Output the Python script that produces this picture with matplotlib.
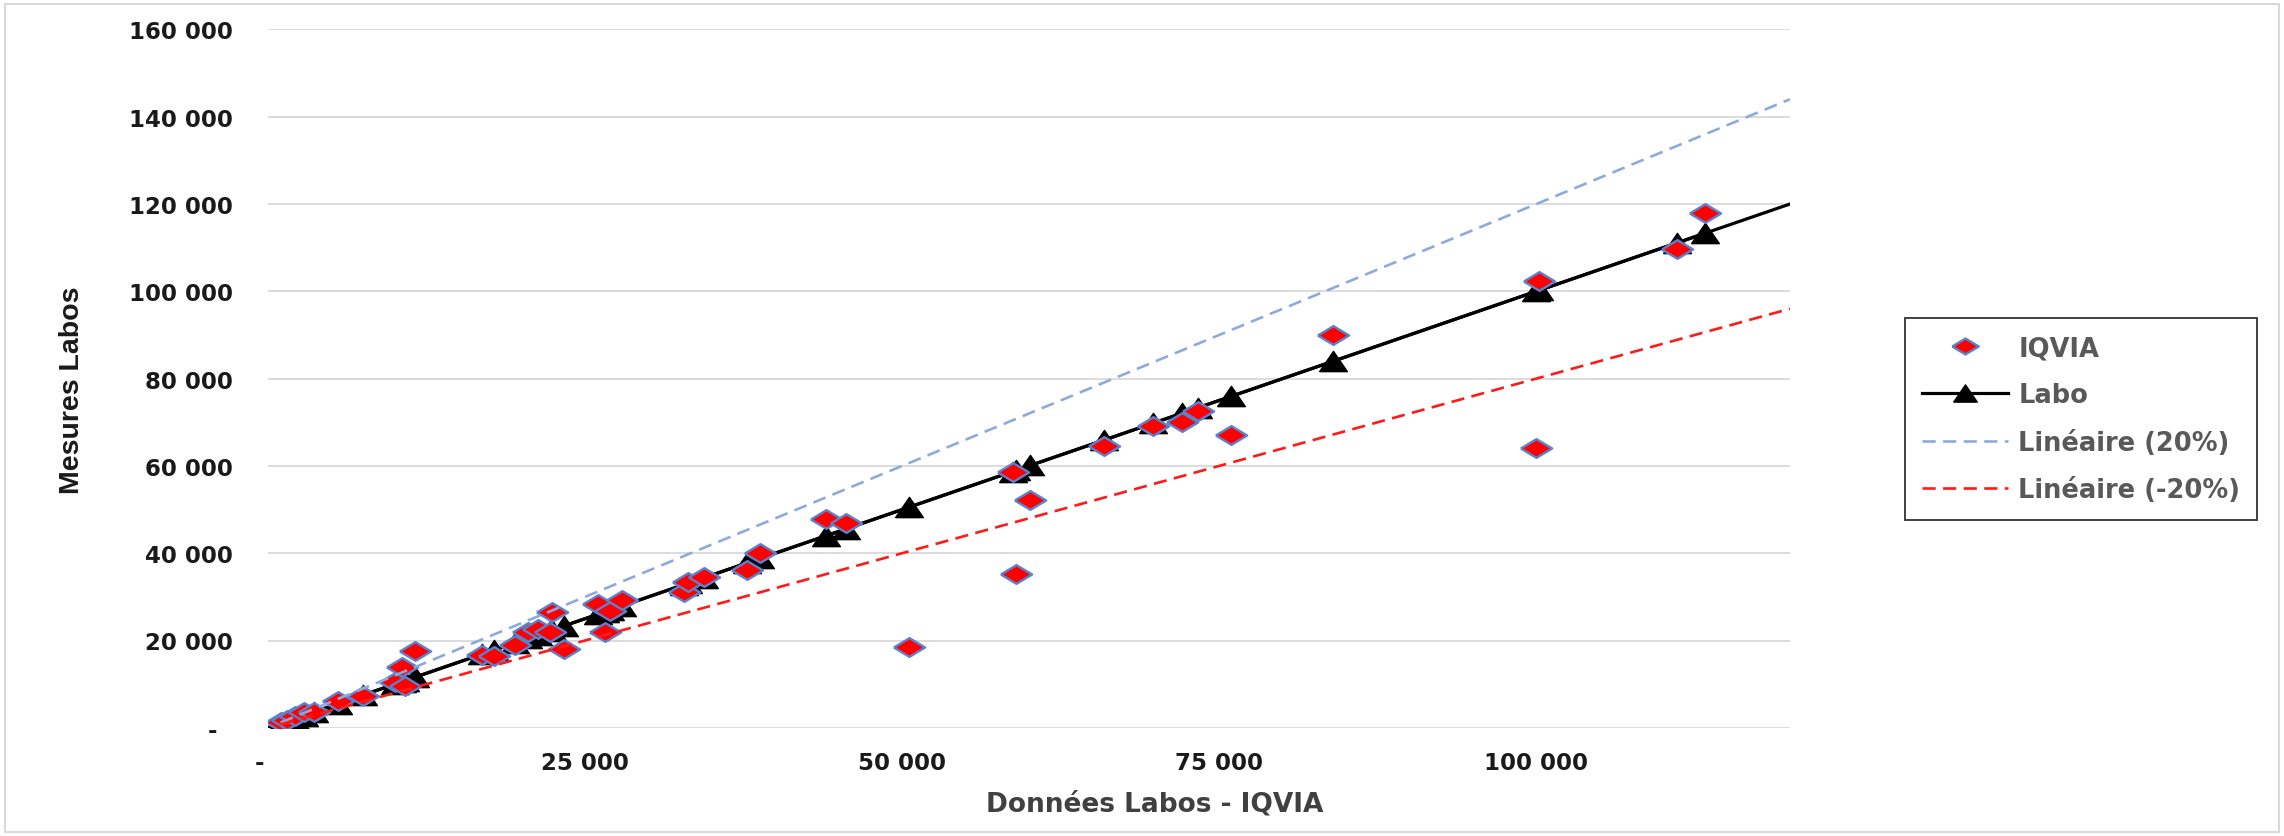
import numpy as np
import matplotlib
matplotlib.use("Agg")
import matplotlib.pyplot as plt
from matplotlib.patches import Rectangle

# valeurs (x = Labo, y = IQVIA)
labo = [1000, 1500, 2100, 2800, 3600, 5500, 7500, 10000, 10800, 10600,
        11600, 16900, 17800, 19500, 20500, 21300, 22200, 22400, 23300, 26000,
        26600, 27000, 27900, 32800, 33100, 34400, 37800, 38800, 44000, 45600,
        50500, 58700, 59000, 60100, 65900, 69800, 72100, 73300, 75900, 84000,
        100000, 100200, 111100, 113300]
iqvia = [1400, 1900, 2800, 3600, 3600, 6200, 7300, 10400, 9500, 14000,
         17600, 16600, 16500, 18900, 22000, 22600, 21900, 26600, 18100, 28400,
         21900, 26800, 29300, 31200, 33400, 34500, 36200, 40000, 47800, 46900,
         18600, 58500, 35200, 52200, 64600, 69200, 70100, 72500, 67100, 90000,
         64100, 102300, 109600, 118000]

x_ticks = [0, 25000, 50000, 75000, 100000]
y_ticks = [0, 20000, 40000, 60000, 80000, 100000, 120000, 140000, 160000]
x_max = 120000
y_max = 160000


def fmt(v, pos=None):
    if v == 0:
        return "-  "
    return f"{v:,.0f}".replace(",", " ")


diamond = [(-1, 0), (0, 0.6), (1, 0), (0, -0.6), (-1, 0)]
triangle = [(-1, -0.73), (1, -0.73), (0, 0.73), (-1, -0.73)]

fig = plt.figure(figsize=(22.84, 8.37), dpi=100)
ax = fig.add_axes([268 / 2284, 1 - 728.8 / 837, 1522 / 2284, 698.4 / 837])

x = np.array(labo, dtype=float)
y = np.array(iqvia, dtype=float)
xs = np.sort(x)

# Labo : y = x
ax.plot([0, x_max], [0, x_max], color="black", lw=2.3, zorder=2)
labo_line, = ax.plot(xs, xs, color="black", lw=2.3, marker=triangle,
                     markersize=20, markerfacecolor="black",
                     markeredgecolor="black", zorder=2, label="Labo")
iq, = ax.plot(x, y, linestyle="none", marker=diamond, markersize=22.5,
              markerfacecolor="#ff0000", markeredgecolor="#5a82cf",
              markeredgewidth=1.7, zorder=3, label="IQVIA")

# droites +/-20 %
xt = np.array([x.min(), x_max])
up, = ax.plot(xt, 1.2 * xt, color="#8eaadc", lw=1.9, dashes=(5, 2.8),
              zorder=4, label="Linéaire (20%)")
dn, = ax.plot(xt, 0.8 * xt, color="#ff1a1a", lw=1.9, dashes=(5, 2.8),
              zorder=4, label="Linéaire (-20%)")

ax.set_xlim(0, x_max)
ax.set_ylim(0, y_max)
ax.set_xticks(x_ticks)
ax.set_yticks(y_ticks)
ax.xaxis.set_major_formatter(plt.FuncFormatter(fmt))
ax.yaxis.set_major_formatter(plt.FuncFormatter(fmt))
for s in ax.spines.values():
    s.set_visible(False)
ax.grid(axis="y", color="#d9d9d9", lw=1.3)
ax.set_axisbelow(True)
ax.tick_params(axis="both", length=0, labelsize=16.5, labelcolor="#1a1a1a")
ax.tick_params(axis="y", pad=25)
ax.tick_params(axis="x", pad=17)
for lab in ax.get_xticklabels() + ax.get_yticklabels():
    lab.set_fontweight("bold")

fig.text(1155 / 2284, 1 - 805 / 837, "Données Labos - IQVIA", ha="center",
         va="center", fontsize=19, fontweight="bold", color="#404040")
fig.text(72 / 2284, 1 - 390 / 837, "Mesures Labos", rotation=90,
         ha="center", va="center", fontsize=20.5, color="#1a1a1a",
         family=["Liberation Sans", "DejaVu Sans"], fontweight="bold")

leg = fig.legend([iq, labo_line, up, dn],
                 ["IQVIA", "Labo", "Linéaire (20%)", "Linéaire (-20%)"],
                 loc="center left", bbox_to_anchor=(1905 / 2284, 1 - 420 / 837),
                 borderaxespad=0, fancybox=False, edgecolor="#404040",
                 framealpha=1, handlelength=3.35, markerscale=0.85,
                 handletextpad=0.4, labelspacing=0.82, borderpad=0.66,
                 prop={"weight": "bold", "size": 18.5})
leg.get_frame().set_linewidth(1.4)
for t in leg.get_texts():
    t.set_color("#595959")

fig.patches.append(Rectangle((5 / 2284, 4 / 837), 1 - 10 / 2284, 1 - 9 / 837,
                             transform=fig.transFigure, fill=False,
                             edgecolor="#d9d9d9", lw=1.5))

fig.savefig("out.png", dpi=100)
